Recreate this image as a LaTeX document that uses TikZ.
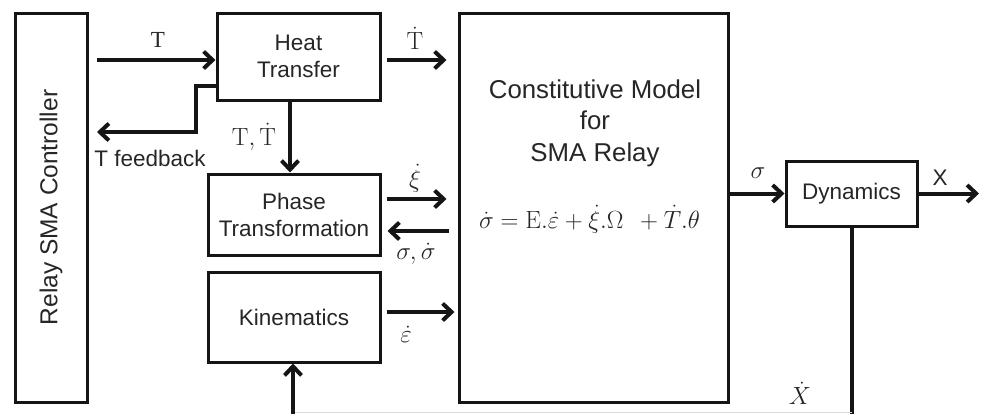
\documentclass[tikz,border=0pt]{standalone}
\usepackage[no-math]{fontspec}
\usepackage{amsmath}
\setmainfont{Liberation Sans}
\newfontfamily\serifrm{Liberation Serif}
\usetikzlibrary{arrows.meta,calc}

\definecolor{ink}{HTML}{151515}
\definecolor{txt}{HTML}{262626}

\tikzset{
  blockbox/.style={draw=ink, line width=3pt, fill=white, inner sep=0pt,
    align=center, text=txt, font=\fontsize{22.5}{27}\selectfont},
  arr/.style={draw=ink, line width=4pt,
    -{Straight Barb[length=9pt,width=17pt,line width=4pt]}},
  lbl/.style={text=txt, inner sep=0pt, font=\fontsize{22.5}{27}\selectfont},
  mlbl/.style={text=txt, inner sep=0pt, font=\fontsize{26}{30}\selectfont},
}

\begin{document}
\begin{tikzpicture}[x=1pt, y=-1pt]
\useasboundingbox (0,0) rectangle (984,413);

% blocks
\node[blockbox, minimum width=72pt, minimum height=389pt] (ctrl) at (51,207.5)
  {\rotatebox{90}{\fontsize{24.5}{29}\selectfont Relay SMA Controller}};
\node[blockbox, minimum width=163pt, minimum height=87pt] (heat) at (298.5,56.5)
  {Heat\\Transfer};
\node[blockbox, minimum width=172pt, minimum height=81pt] (phase) at (294,214.5)
  {Phase\\Transformation};
\node[blockbox, minimum width=172pt, minimum height=90pt] (kin) at (294,317)
  {Kinematics};
\node[blockbox, minimum width=269pt, minimum height=389pt] (cm) at (593.5,207.5) {};
\node[blockbox, minimum width=131pt, minimum height=65pt] (dyn) at (851.5,193.5)
  {Dynamics};

% text inside the constitutive model block
\node[lbl, align=center, font=\fontsize{25.8}{31.5}\selectfont] (cmtitle) at (595,123)
  {Constitutive Model\\for\\SMA Relay};
\node[mlbl, font=\fontsize{27}{32}\selectfont] (eq) at (589.5,219)
  {$\dot\sigma = \mathrm{E}.\dot{\varepsilon} + \dot\xi.\Omega\;\, + \dot T.\theta$};

% free ends of connectors
\coordinate (fbend) at (196,132);
\coordinate (fbtip) at (97,132);
\coordinate (xout) at (979,193.5);
\coordinate (bottom) at (0,415.6);

% connectors
\draw[arr] ([xshift=8pt]ctrl.east |- heat.west) ++(0,3.5) -- ([yshift=-3.5pt]heat.west);
\draw[arr] ([shift={(5pt,-3.5pt)}]heat.east) -- ([shift={(-11pt,-3.5pt)}]heat.east -| cm.west);
\draw[arr, line join=miter] ([yshift=-29.5pt]heat.west) -| (fbend) -- (fbtip);
\draw[arr] ([xshift=-8.5pt]heat.south) -- ([xshift=-8.5pt]heat.south |- phase.north);
\draw[arr] ([shift={(5pt,15.5pt)}]phase.east) -- ([shift={(-11pt,15.5pt)}]phase.east -| cm.west);
\draw[arr] ([shift={(-9pt,-16.5pt)}]phase.east -| cm.west) -- ([shift={(6pt,-16.5pt)}]phase.east);
\draw[arr] ([shift={(5pt,5pt)}]kin.east) -- ([shift={(-3pt,5pt)}]kin.east -| cm.west);
\draw[arr] (cm.east |- dyn.west) -- (dyn.west);
\draw[arr] (dyn.south) -- (dyn.south |- bottom) -| ([xshift=-1pt]kin.south);
\draw[arr] (dyn.east) -- (xout);
% faint trace of the return line along the lower edge
\draw[draw=black!14, line width=1pt] ([yshift=3pt]dyn.south |- bottom) -- ([shift={(1pt,3pt)}]kin.south |- bottom);

% connector labels
\node[lbl, font=\serifrm\fontsize{23}{27}\selectfont] (lT) at (158,40) {T};
\node[mlbl] (lTd) at (415,38) {$\dot{\mathrm{T}}$};
\node[lbl] (lfb) at (150,158) {T feedback};
\node[mlbl] (lTTd) at (254,137) {$\mathrm{T}, \dot{\mathrm{T}}$};
\node[mlbl] (lxi) at (415,178) {$\dot\xi$};
\node[mlbl] (lsig) at (416,254) {$\sigma, \dot\sigma$};
\node[mlbl] (leps) at (406,334) {$\dot\varepsilon$};
\node[mlbl] (lsout) at (758,173) {$\sigma$};
\node[lbl] (lX) at (940,178) {X};
\node[mlbl] (lXd) at (800,393) {$\dot X$};
\end{tikzpicture}
\end{document}
